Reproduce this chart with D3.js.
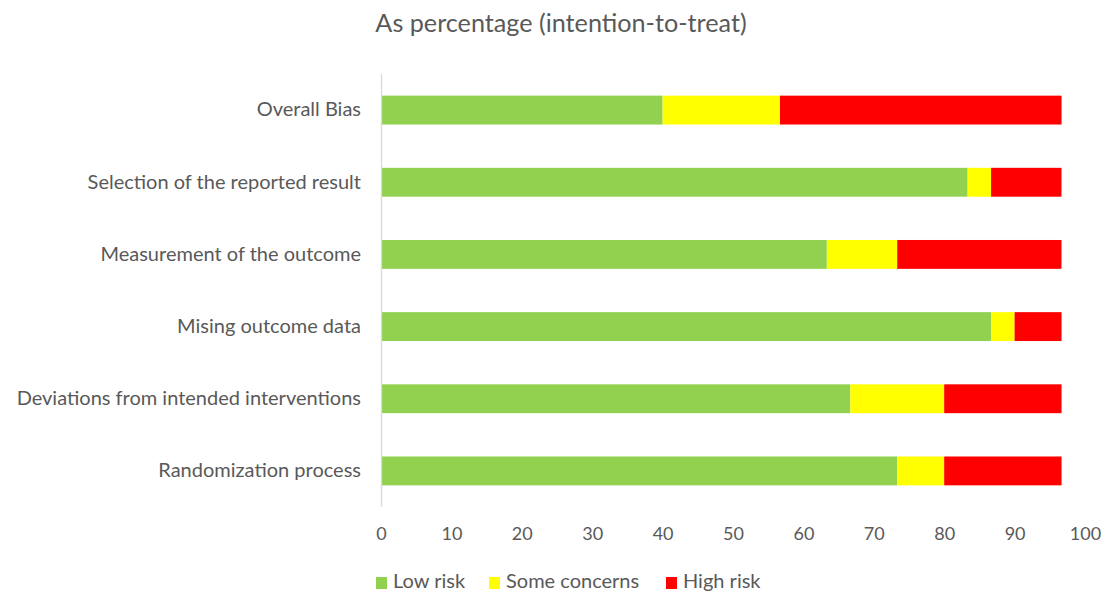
<!DOCTYPE html>
<html>
<head>
<meta charset="utf-8">
<script src="https://cdn.jsdelivr.net/npm/d3@7"></script>
<style>
  html, body { margin: 0; padding: 0; background: #fff; }
  svg { display: block; }
  text { font-family: Lato, "Open Sans", sans-serif; fill: #595959; }
</style>
</head>
<body>
<svg id="chart" width="1104" height="591"></svg>
<script>
const title = "As percentage (intention-to-treat)";
const categories = [
  "Overall Bias",
  "Selection of the reported result",
  "Measurement of the outcome",
  "Mising outcome data",
  "Deviations from intended interventions",
  "Randomization process"
];
const lowRisk = [40, 83.33, 63.33, 86.67, 66.67, 73.33];
const someConcerns = [16.67, 3.33, 10, 3.33, 13.33, 6.67];
const highRisk = [40, 10, 23.33, 6.67, 16.67, 16.67];
const seriesNames = ["Low risk", "Some concerns", "High risk"];
const seriesColors = ["#92D050", "#FFFF00", "#FF0000"];
const xTicks = [0, 10, 20, 30, 40, 50, 60, 70, 80, 90, 100];

const svg = d3.select("#chart");
const plotLeft = 381, plotRight = 1085, plotTop = 74, plotBottom = 507;

const x = d3.scaleLinear().domain([0, 100]).range([plotLeft, plotRight]);
const y = d3.scaleBand().domain(categories).range([plotTop, plotBottom])
  .paddingInner(0.6).paddingOuter(0.3);

const rows = categories.map((c, i) => ({
  cat: c, "Low risk": lowRisk[i], "Some concerns": someConcerns[i], "High risk": highRisk[i]
}));
const stacked = d3.stack().keys(seriesNames)(rows);

// title
svg.append("text")
  .attr("x", 561).attr("y", 32)
  .attr("text-anchor", "middle")
  .style("font-size", "25.2px")
  .text(title);

// bars
svg.append("g").selectAll("g").data(stacked).join("g")
  .attr("fill", (d, i) => seriesColors[i])
  .selectAll("rect").data(d => d).join("rect")
  .attr("x", d => x(d[0]))
  .attr("width", d => x(d[1]) - x(d[0]))
  .attr("y", d => y(d.data.cat))
  .attr("height", y.bandwidth());

// y axis
const yAxis = svg.append("g")
  .attr("transform", `translate(${plotLeft},0)`)
  .call(d3.axisLeft(y).tickSize(0).tickPadding(20));
yAxis.select(".domain").attr("stroke", "#d9d9d9").attr("stroke-width", 1.3)
  .attr("d", `M0.5,${plotTop}V${plotBottom}`);
yAxis.selectAll("text").style("font-size", "20px").attr("fill", "#595959")
  .style("font-family", "Lato, 'Open Sans', sans-serif");

// x axis (labels only)
const xAxis = svg.append("g")
  .attr("transform", `translate(0,${plotBottom})`)
  .call(d3.axisBottom(x).tickValues(xTicks).tickSize(0).tickPadding(20));
xAxis.select(".domain").remove();
xAxis.selectAll("text").style("font-size", "18px").attr("fill", "#595959")
  .style("font-family", "Lato, 'Open Sans', sans-serif");

// legend
const legendX = [376, 489, 666];
const leg = svg.append("g").selectAll("g").data(seriesNames).join("g")
  .attr("transform", (d, i) => `translate(${legendX[i]},577)`);
leg.append("rect").attr("width", 11).attr("height", 12)
  .attr("fill", (d, i) => seriesColors[i]);
leg.append("text").attr("x", 17).attr("y", 11)
  .style("font-size", "20px").text(d => d);
</script>
</body>
</html>
